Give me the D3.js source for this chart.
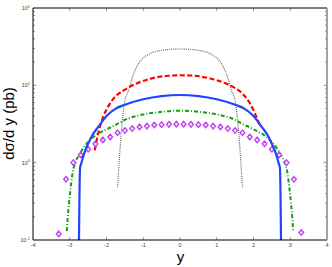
<!DOCTYPE html>
<html>
<head>
<meta charset="utf-8">
<script src="https://cdn.jsdelivr.net/npm/d3@7"></script>
<style>
  body { margin: 0; background: #fff; }
  svg { display: block; font-family: "Liberation Sans", Arial, sans-serif; }
</style>
</head>
<body>
<div id="graf"></div>
<script>
// Datos
const xTicks = [-4, -3, -2, -1, 0, 1, 2, 3, 4]
const yDecades = [0.1, 1, 10, 100]
const yExps = ["-1", "0", "1", "2"]

const grayX = [-1.7, -1.65, -1.6, -1.5, -1.4, -1.3, -1.2, -1.1, -1.0, -0.8, -0.6, -0.4, -0.2, 0, 0.2, 0.4, 0.6, 0.8, 1.0, 1.1, 1.2, 1.3, 1.4, 1.5, 1.6, 1.65, 1.7]
const grayY = [0.48, 1.1, 2.4, 6.3, 8.6, 12.5, 16.5, 20, 22.5, 26, 27.8, 28.8, 29.3, 29.5, 29.3, 28.8, 27.8, 26, 22.5, 20, 16.5, 12.5, 8.6, 6.3, 2.4, 1.1, 0.48]

const redX = [-2.32, -2.2, -2.09, -1.9, -1.7, -1.5, -1.2, -0.9, -0.6, -0.3, 0, 0.3, 0.6, 0.9, 1.2, 1.5, 1.7, 1.9, 2.05, 2.18]
const redY = [1.45, 2.7, 3.9, 5.9, 7.6, 8.8, 10.5, 11.8, 12.8, 13.3, 13.5, 13.4, 12.9, 12.0, 10.8, 9.2, 7.8, 5.9, 4.2, 3.0]

const greenX = [-3.08, -3.06, -3.02, -2.97, -2.92, -2.85, -2.75, -2.65, -2.5, -2.3, -2.0, -1.8, -1.4, -1.0, -0.5, 0, 0.5, 1.0, 1.4, 1.8, 2.0, 2.3, 2.5, 2.65, 2.75, 2.85, 2.92, 2.97, 3.02, 3.06, 3.08]
const greenY = [0.13, 0.18, 0.3, 0.5, 0.75, 1.0, 1.25, 1.5, 1.85, 2.25, 2.7, 3.0, 3.75, 4.2, 4.55, 4.7, 4.55, 4.2, 3.75, 3.0, 2.7, 2.25, 1.85, 1.5, 1.25, 1.0, 0.75, 0.5, 0.3, 0.18, 0.13]

const blueX = [-2.755, -2.72, -2.68, -2.6, -2.5, -2.4, -2.2, -2.0, -1.75, -1.5, -1.0, -0.5, 0, 0.5, 1.0, 1.5, 1.75, 2.0, 2.2, 2.4, 2.5, 2.6, 2.68, 2.72, 2.755]
const blueY = [0.05, 0.85, 1.0, 1.35, 1.75, 2.2, 3.0, 4.0, 5.0, 5.6, 6.6, 7.25, 7.5, 7.25, 6.6, 5.6, 5.0, 4.0, 3.0, 2.2, 1.75, 1.35, 1.0, 0.85, 0.05]

const diaX = [-3.3, -3.1, -2.9, -2.7, -2.5, -2.3, -2.1, -1.9, -1.7, -1.5, -1.3, -1.1, -0.9, -0.7, -0.5, -0.3, -0.1, 0.1, 0.3, 0.5, 0.7, 0.9, 1.1, 1.3, 1.5, 1.7, 1.9, 2.1, 2.3, 2.5, 2.7, 2.9, 3.1, 3.3]
const diaY = [0.12, 0.61, 1.0, 1.26, 1.49, 1.75, 1.97, 2.15, 2.44, 2.6, 2.76, 2.9, 2.97, 3.07, 3.1, 3.13, 3.15, 3.15, 3.13, 3.1, 3.07, 2.97, 2.9, 2.76, 2.6, 2.44, 2.15, 1.97, 1.75, 1.49, 1.26, 1.0, 0.61, 0.125]

const toPts = (xs, ys) => xs.map((v, i) => ({ x: v, y: ys[i] }))

const anchoTotal = 332
const altoTotal = 267
const margins = { left: 33, top: 8, right: 5, bottom: 27 }
const ancho = anchoTotal - margins.left - margins.right
const alto = altoTotal - margins.top - margins.bottom

const svg = d3
  .select("#graf")
  .append("svg")
  .attr("width", anchoTotal)
  .attr("height", altoTotal)

const g = svg
  .append("g")
  .attr("transform", `translate(${margins.left}, ${margins.top})`)

// Escaladores
const x = d3.scaleLinear().domain([-4, 4]).range([0, ancho])
const y = d3.scaleLog().domain([0.1, 100]).range([alto, 0])

svg
  .append("clipPath")
  .attr("id", "clip")
  .append("rect")
  .attr("width", ancho)
  .attr("height", alto)

// Ticks
const minor = []
yDecades.slice(0, -1).forEach((d) => {
  for (let k = 2; k <= 9; k++) minor.push(d * k)
})

const ticks = g.append("g").attr("stroke", "#777").attr("stroke-width", 0.8)
xTicks.slice(1, -1).forEach((t) => {
  ticks.append("line").attr("x1", x(t)).attr("x2", x(t)).attr("y1", alto).attr("y2", alto - 3)
  ticks.append("line").attr("x1", x(t)).attr("x2", x(t)).attr("y1", 0).attr("y2", 3)
})
minor.forEach((t) => {
  ticks.append("line").attr("x1", 0).attr("x2", 2).attr("y1", y(t)).attr("y2", y(t))
  ticks.append("line").attr("x1", ancho).attr("x2", ancho - 2).attr("y1", y(t)).attr("y2", y(t))
})
yDecades.slice(1, -1).forEach((t) => {
  ticks.append("line").attr("x1", 0).attr("x2", 3.5).attr("y1", y(t)).attr("y2", y(t))
  ticks.append("line").attr("x1", ancho).attr("x2", ancho - 3.5).attr("y1", y(t)).attr("y2", y(t))
})

// Curvas
const line = d3
  .line()
  .x((d) => x(d.x))
  .y((d) => y(d.y))
  .curve(d3.curveMonotoneX)

const curvas = g.append("g").attr("clip-path", "url(#clip)").attr("fill", "none")

curvas
  .append("path")
  .datum(toPts(grayX, grayY))
  .attr("d", line)
  .attr("stroke", "#666")
  .attr("stroke-width", 1.2)
  .attr("stroke-dasharray", "1,1.1")

curvas
  .append("path")
  .datum(toPts(redX, redY))
  .attr("d", line)
  .attr("stroke", "#ff0000")
  .attr("stroke-width", 2.2)
  .attr("stroke-dasharray", "5,2.5")

curvas
  .append("path")
  .datum(toPts(greenX, greenY))
  .attr("d", line)
  .attr("stroke", "#11a011")
  .attr("stroke-width", 2)
  .attr("stroke-dasharray", "4,2,1,2")

curvas
  .selectAll(".dia")
  .data(toPts(diaX, diaY))
  .join("path")
  .attr("class", "dia")
  .attr("transform", (d) => `translate(${x(d.x)}, ${y(d.y)})`)
  .attr("d", "M0,-2.8L2.4,0L0,2.8L-2.4,0Z")
  .attr("fill", "#f4e4ff")
  .attr("stroke", "#c03cf0")
  .attr("stroke-width", 1.3)

curvas
  .append("path")
  .datum(toPts(blueX, blueY))
  .attr("d", line)
  .attr("stroke", "#2244ff")
  .attr("stroke-width", 2.2)

// Marco
g.append("line").attr("x1", 0).attr("x2", 0).attr("y1", 0).attr("y2", alto).attr("stroke", "#000").attr("stroke-width", 1)
g.append("line").attr("x1", 0).attr("x2", ancho).attr("y1", alto).attr("y2", alto).attr("stroke", "#000").attr("stroke-width", 1)
g.append("line").attr("x1", 0).attr("x2", ancho).attr("y1", 0).attr("y2", 0).attr("stroke", "#000").attr("stroke-width", 1)
g.append("line").attr("x1", ancho).attr("x2", ancho).attr("y1", 0).attr("y2", alto).attr("stroke", "#999").attr("stroke-width", 1.8)

// Etiquetas
g.selectAll(".xl")
  .data(xTicks)
  .join("text")
  .attr("class", "xl")
  .attr("x", (d) => x(d))
  .attr("y", alto + 7)
  .attr("text-anchor", "middle")
  .attr("font-size", 5.5)
  .attr("fill", "#444")
  .text((d) => d)

const yl = g
  .selectAll(".yl")
  .data(yDecades)
  .join("text")
  .attr("class", "yl")
  .attr("x", -3)
  .attr("y", (d) => y(d) + 2)
  .attr("text-anchor", "end")
  .attr("font-size", 5.5)
  .attr("fill", "#444")
yl.append("tspan").text("10")
yl.append("tspan")
  .attr("dy", -2.5)
  .attr("font-size", 4)
  .text((d, i) => yExps[i])

svg
  .append("text")
  .attr("transform", `translate(14, 123.5) rotate(-90)`)
  .attr("text-anchor", "middle")
  .attr("font-size", 15)
  .attr("fill", "#000")
  .text("dσ/d y (pb)")

svg
  .append("text")
  .attr("x", margins.left + x(0) + 0.5)
  .attr("y", 262)
  .attr("text-anchor", "middle")
  .attr("font-size", 15)
  .attr("fill", "#000")
  .text("y")
</script>
</body>
</html>
